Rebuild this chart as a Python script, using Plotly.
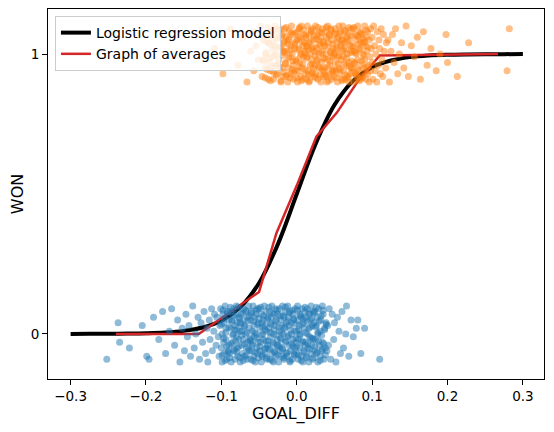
import plotly.graph_objects as go

# logistic regression curve
model_x = [-0.3, -0.275, -0.25, -0.225, -0.2, -0.175, -0.15, -0.125, -0.1, -0.075, -0.05, -0.025, 0.0,
           0.025, 0.05, 0.075, 0.1, 0.125, 0.15, 0.175, 0.2, 0.225, 0.25, 0.275, 0.3]
model_y = [0.0001, 0.0003, 0.0006, 0.0012, 0.0025, 0.0052, 0.011, 0.023, 0.047, 0.095, 0.182, 0.321, 0.5,
           0.679, 0.818, 0.905, 0.953, 0.977, 0.989, 0.9948, 0.9975, 0.9988, 0.9994, 0.9997, 0.9999]

# graph of averages
avg_x = [-0.24, -0.13, -0.05, -0.027, 0.0, 0.026, 0.053, 0.079, 0.11, 0.267]
avg_y = [0.0, 0.0, 0.15, 0.36, 0.53, 0.705, 0.79, 0.895, 0.995, 1.0]

# WON = 0 games
lost_x = [
    -0.252, -0.237, -0.235, -0.222, -0.205,
    -0.199, -0.196, -0.19, -0.183, -0.178, -0.174, -0.169, -0.166, -0.162, -0.158, -0.155, -0.152,
    -0.149, -0.147, -0.145, -0.143, -0.141, -0.138, -0.136, -0.134, -0.131, -0.129, -0.127, -0.125, -0.123, -0.121,
    -0.119, -0.118, -0.116, -0.115, -0.113, -0.112, -0.11, -0.109, -0.107, -0.106, -0.104, -0.103, -0.102, -0.101,
    -0.1, -0.099, -0.099, -0.098, -0.097, -0.097, -0.096, -0.095, -0.094, -0.094, -0.093, -0.092, -0.091, -0.09,
    -0.09, -0.089, -0.088, -0.087, -0.087, -0.086, -0.085, -0.084, -0.084, -0.083, -0.082, -0.082, -0.081, -0.08,
    -0.08, -0.079, -0.079, -0.078, -0.077, -0.077, -0.076, -0.075, -0.075, -0.074, -0.073, -0.073, -0.072, -0.071,
    -0.071, -0.07, -0.069, -0.069, -0.068, -0.067, -0.067, -0.066, -0.065, -0.065, -0.064, -0.063, -0.063, -0.062,
    -0.061, -0.061, -0.06, -0.06,
    -0.059, -0.059, -0.058, -0.057, -0.057, -0.056, -0.056, -0.055, -0.054, -0.054, -0.053, -0.052, -0.052, -0.051,
    -0.051, -0.05, -0.049, -0.049, -0.048, -0.047, -0.047, -0.046, -0.046, -0.045, -0.044, -0.044, -0.043, -0.042,
    -0.042, -0.041, -0.041, -0.04, -0.04, -0.039,
    -0.038, -0.038, -0.037, -0.036, -0.036, -0.035, -0.035, -0.034, -0.033, -0.033, -0.032, -0.031, -0.031, -0.03,
    -0.03, -0.029, -0.028, -0.028, -0.027, -0.026, -0.026, -0.025, -0.025, -0.024, -0.023, -0.023, -0.022, -0.021,
    -0.021, -0.02, -0.02, -0.019, -0.019, -0.018,
    -0.017, -0.017, -0.016, -0.015, -0.015, -0.014, -0.014, -0.013, -0.012, -0.012, -0.011, -0.01, -0.01, -0.009,
    -0.009, -0.008, -0.007, -0.007, -0.006, -0.005, -0.005, -0.004, -0.004, -0.003, -0.002, -0.002, -0.001, 0.0,
    0.0, 0.001, 0.001, 0.002, 0.002, 0.003,
    0.004, 0.004, 0.005, 0.006, 0.006, 0.007, 0.007, 0.008, 0.009, 0.009, 0.01, 0.011, 0.011, 0.012, 0.012, 0.013,
    0.014, 0.014, 0.015, 0.016, 0.016, 0.017, 0.017, 0.018, 0.019, 0.019, 0.02, 0.021, 0.021, 0.022, 0.022, 0.023,
    0.024, 0.024, 0.025, 0.026, 0.026, 0.027, 0.028, 0.028, 0.029, 0.03, 0.031, 0.031, 0.032, 0.033, 0.034, 0.034,
    0.035, 0.036, 0.037, 0.038, 0.039, 0.04, 0.041, 0.042,
    0.043, 0.045, 0.047, 0.049, 0.05, 0.052, 0.054, 0.056, 0.058, 0.06,
    0.062, 0.065, 0.066, 0.069, 0.072, 0.075, 0.079,
    0.081, 0.085, 0.09, 0.11,
]
lost_jitter = [
    -0.09, 0.04, -0.03, -0.05, 0.03, -0.08, -0.09, 0.06, -0.02, 0.08, -0.07, 0.01, 0.09, -0.04, 0.05, -0.1, 0.02, -0.06, 0.07, -0.01,
    0.03, -0.08, 0.1, -0.05, 0.0, 0.06, -0.09, 0.04, -0.03, 0.08, -0.07, 0.02, -0.1, 0.05, -0.02, 0.09, -0.06, 0.01, 0.07, -0.04,
    0.06, -0.01, -0.08, 0.03, 0.09, -0.05, 0.0, -0.1, 0.07, -0.03, 0.04, -0.07, 0.1, -0.02, 0.02, -0.09, 0.08, -0.06, 0.05, -0.04,
    -0.07, 0.08, 0.02, -0.1, 0.05, -0.03, 0.09, 0.0, -0.06, 0.03, -0.09, 0.07, -0.01, 0.1, -0.05, 0.04, -0.08, 0.06, -0.02, 0.01,
    0.04, -0.1, 0.07, -0.04, 0.01, -0.07, 0.09, -0.02, 0.05, -0.08, 0.03, 0.0, -0.05, 0.08, -0.09, 0.06, -0.03, 0.1, -0.06, 0.02,
    -0.02, 0.05, -0.09, 0.08, -0.06, 0.01, -0.04, 0.1, 0.03, -0.08, 0.06, -0.01, -0.1, 0.07, 0.0, -0.05, 0.09, -0.07, 0.04, -0.03,
    0.09, -0.06, 0.02, -0.03, 0.07, -0.1, 0.04, -0.08, 0.0, 0.05, -0.02, 0.1, -0.07, 0.03, -0.05, 0.08, -0.09, 0.01, -0.04, 0.06,
    -0.05, 0.02, 0.08, -0.09, 0.04, -0.01, 0.06, -0.07, 0.1, -0.03, 0.0, -0.1, 0.07, -0.06, 0.03, 0.09, -0.08, 0.05, -0.02, -0.04,
    0.07, -0.04, -0.1, 0.01, 0.09, -0.06, 0.05, -0.02, -0.08, 0.03, 0.1, -0.05, 0.0, 0.06, -0.09, 0.02, -0.03, 0.08, -0.07, 0.04,
    -0.08, 0.1, -0.01, 0.06, -0.04, 0.03, -0.1, 0.08, -0.06, 0.0, 0.04, -0.09, 0.07, -0.02, 0.05, -0.07, 0.01, 0.09, -0.05, -0.03,
    0.01, -0.07, 0.05, 0.1, -0.02, -0.09, 0.03, 0.07, -0.05, 0.0, -0.08, 0.06, -0.03, 0.09, -0.1, 0.04, -0.06, 0.02, 0.08, -0.04,
    -0.03, 0.06, -0.08, 0.0, 0.09, -0.05, 0.02, -0.1, 0.07, -0.01, 0.05, -0.07, 0.1, -0.04, 0.03, -0.09, 0.08, -0.02, 0.04, -0.06,
    0.08, -0.02, 0.03, -0.07, 0.06, -0.1, 0.0, 0.09, -0.04, 0.01, -0.08, 0.05, -0.06, 0.1, -0.03, 0.07, -0.09, 0.02, -0.05, 0.04,
    -0.06, 0.03, -0.04, 0.09, -0.09, 0.07, -0.02, 0.04, -0.1, 0.06, 0.01, -0.07, 0.08, -0.05, 0.0, 0.1, -0.08, 0.05, -0.01, 0.02,
    0.05, -0.07, 0.02, -0.09,
]
# more WON = 0 games in the crowded middle
lost_x_core = [
    -0.1, -0.099, -0.098, -0.097, -0.096, -0.095, -0.094, -0.093, -0.092, -0.091, -0.09, -0.089, -0.088, -0.087,
    -0.086, -0.085, -0.084, -0.083, -0.082, -0.081, -0.08, -0.079, -0.078, -0.077, -0.076, -0.075, -0.074, -0.073,
    -0.072, -0.071, -0.07, -0.069, -0.068, -0.067, -0.066, -0.065, -0.064, -0.063, -0.062, -0.061, -0.06, -0.059,
    -0.058, -0.057, -0.056, -0.055, -0.054, -0.053, -0.052, -0.051, -0.05, -0.049, -0.048, -0.047, -0.046, -0.045,
    -0.044, -0.043, -0.042, -0.041, -0.04, -0.039, -0.038, -0.037, -0.036, -0.035, -0.034, -0.033, -0.032, -0.031,
    -0.03, -0.029, -0.028, -0.027, -0.026, -0.025, -0.024, -0.023, -0.022, -0.021, -0.02, -0.019, -0.018, -0.017,
    -0.016, -0.015, -0.014, -0.013, -0.012, -0.011, -0.01, -0.009, -0.008, -0.007, -0.006, -0.005, -0.004, -0.003,
    -0.002, -0.001, 0.0, 0.001, 0.002, 0.003, 0.004, 0.005, 0.006, 0.007, 0.008, 0.009, 0.01, 0.011,
    0.012, 0.013, 0.014, 0.015, 0.016, 0.017, 0.018, 0.019, 0.02, 0.021, 0.022, 0.023, 0.024, 0.025,
    0.026, 0.027, 0.028, 0.029, 0.03, 0.031, 0.032, 0.033, 0.034, 0.035, 0.036, 0.037, 0.038, 0.039,
]
lost_jitter_core = [
    0.035, -0.075, 0.085, -0.015, 0.055, -0.095, 0.005, -0.045, 0.075, -0.065, 0.025, -0.085, 0.095, -0.035, 0.045, -0.005, 0.065, -0.055, 0.015, -0.025,
    -0.065, 0.015, 0.095, -0.045, 0.055, -0.085, 0.035, -0.005, 0.075, -0.095, 0.025, -0.035, 0.085, -0.075, 0.005, 0.045, -0.055, 0.065, -0.015, -0.025,
    0.075, -0.035, -0.095, 0.045, 0.005, -0.065, 0.085, -0.015, 0.035, -0.085, 0.055, -0.045, 0.095, -0.005, -0.075, 0.025, 0.065, -0.055, 0.015, -0.025,
    -0.085, 0.055, -0.025, 0.095, -0.055, 0.005, 0.035, -0.095, 0.075, -0.035, 0.015, -0.065, 0.045, -0.005, 0.085, -0.075, 0.025, -0.045, 0.065, -0.015,
    0.005, -0.055, 0.065, -0.085, 0.025, 0.095, -0.025, -0.065, 0.045, -0.005, 0.075, -0.095, 0.015, -0.035, 0.085, -0.045, 0.055, -0.075, 0.035, -0.015,
    -0.045, 0.085, -0.075, 0.015, -0.005, 0.065, -0.095, 0.035, -0.025, 0.055, -0.065, 0.095, 0.005, -0.085, 0.045, -0.035, 0.075, -0.055, 0.025, -0.015,
    0.055, -0.015, -0.085, 0.075, -0.045, 0.025, 0.095, -0.065, 0.005, -0.025, 0.045, -0.095, 0.065, -0.005, -0.055, 0.085, -0.035, 0.015, -0.075, 0.035,
]

# WON = 1 games
won_x = [
    -0.109, -0.098, -0.088, -0.078, -0.072, -0.066, -0.061, -0.058,
    -0.057, -0.054, -0.051, -0.048, -0.046, -0.044, -0.042, -0.041,
    -0.039, -0.038, -0.037, -0.036, -0.035, -0.034, -0.033, -0.032, -0.031, -0.03, -0.029, -0.028, -0.027, -0.026,
    -0.025, -0.024, -0.022, -0.021,
    -0.02, -0.019, -0.019, -0.018, -0.017, -0.017, -0.016, -0.015, -0.014, -0.014, -0.013, -0.012, -0.011, -0.011,
    -0.01, -0.009, -0.008, -0.008, -0.007, -0.006, -0.005, -0.005, -0.004, -0.003, -0.002, -0.002, -0.001, 0.0,
    0.001, 0.001, 0.002, 0.003, 0.003, 0.004, 0.004, 0.005, 0.006, 0.006, 0.007, 0.008, 0.008, 0.009, 0.009, 0.01,
    0.011, 0.011, 0.012, 0.013, 0.013, 0.014, 0.014, 0.015, 0.016, 0.016, 0.017, 0.018, 0.018, 0.019, 0.019, 0.02,
    0.02, 0.021,
    0.022, 0.022, 0.023, 0.024, 0.024, 0.025, 0.025, 0.026, 0.027, 0.027, 0.028, 0.029, 0.029, 0.03, 0.03, 0.031,
    0.032, 0.032, 0.033, 0.034, 0.034, 0.035, 0.035, 0.036, 0.037, 0.037, 0.038, 0.039, 0.039, 0.04, 0.04, 0.041,
    0.041, 0.042,
    0.043, 0.043, 0.044, 0.045, 0.045, 0.046, 0.046, 0.047, 0.048, 0.048, 0.049, 0.05, 0.05, 0.051, 0.051, 0.052,
    0.053, 0.053, 0.054, 0.055, 0.055, 0.056, 0.056, 0.057, 0.058, 0.058, 0.059, 0.06, 0.06, 0.061, 0.061, 0.062,
    0.062, 0.063,
    0.064, 0.064, 0.065, 0.066, 0.066, 0.067, 0.067, 0.068, 0.069, 0.069, 0.07, 0.071, 0.071, 0.072, 0.072, 0.073,
    0.074, 0.074, 0.075, 0.076, 0.076, 0.077, 0.077, 0.078, 0.079, 0.079, 0.08, 0.081, 0.081, 0.082, 0.082, 0.083,
    0.084, 0.084, 0.085, 0.086, 0.086, 0.087, 0.088, 0.088, 0.089, 0.09, 0.09, 0.091, 0.092, 0.092, 0.093, 0.094,
    0.094, 0.095, 0.096, 0.096, 0.097, 0.098, 0.098, 0.099, 0.1, 0.1, 0.101, 0.102,
    0.103, 0.104, 0.105, 0.106, 0.107, 0.108, 0.109, 0.11, 0.111, 0.112, 0.113, 0.114, 0.115, 0.116, 0.118, 0.119,
    0.121, 0.123, 0.125, 0.127, 0.129, 0.131, 0.134, 0.136, 0.139, 0.142, 0.145, 0.148,
    0.152, 0.156, 0.16, 0.164, 0.168, 0.173, 0.178, 0.185, 0.19, 0.198,
    0.2, 0.213, 0.228, 0.279, 0.282,
]
won_jitter = [
    0.02, -0.07, 0.09, -0.04, 0.06, -0.1, 0.01, 0.08, -0.06, 0.03, -0.02, 0.1, -0.08, 0.05, -0.05, 0.0, 0.07, -0.09, 0.04, -0.03,
    -0.06, 0.08, -0.01, 0.05, -0.09, 0.03, 0.1, -0.04, 0.0, -0.07, 0.06, -0.02, 0.09, -0.1, 0.02, -0.05, 0.07, -0.08, 0.04, 0.01,
    0.09, -0.03, -0.08, 0.06, 0.01, -0.1, 0.05, -0.05, 0.08, -0.01, 0.03, -0.07, 0.1, 0.0, -0.04, 0.07, -0.09, 0.02, -0.06, 0.04,
    -0.02, 0.05, -0.1, 0.08, -0.06, 0.02, 0.09, -0.03, 0.06, -0.08, 0.0, 0.1, -0.05, 0.03, -0.09, 0.07, -0.01, 0.04, -0.07, 0.01,
    0.06, -0.09, 0.03, -0.01, 0.1, -0.06, 0.04, -0.1, 0.07, 0.0, -0.04, 0.08, -0.07, 0.02, -0.02, 0.09, -0.05, 0.05, -0.08, 0.01,
    -0.04, 0.1, -0.07, 0.02, 0.07, -0.02, -0.09, 0.05, 0.0, 0.08, -0.05, 0.03, -0.1, 0.06, -0.03, 0.01, 0.09, -0.08, 0.04, -0.06,
    0.03, -0.05, 0.08, -0.08, 0.0, 0.06, -0.1, 0.1, -0.02, 0.04, -0.07, 0.07, -0.04, 0.01, 0.09, -0.09, 0.05, -0.01, 0.02, -0.06,
    -0.08, 0.07, 0.0, -0.03, 0.09, -0.06, 0.04, 0.02, -0.1, 0.06, -0.01, -0.05, 0.1, -0.07, 0.03, 0.08, -0.02, -0.09, 0.05, 0.01,
    0.1, -0.01, -0.06, 0.04, -0.09, 0.08, 0.02, -0.04, 0.06, -0.08, 0.0, 0.07, -0.03, -0.1, 0.05, 0.03, -0.07, 0.09, -0.05, 0.01,
    -0.05, 0.03, 0.09, -0.1, 0.01, -0.03, 0.07, -0.07, 0.05, 0.0, -0.08, 0.1, -0.02, 0.06, -0.06, 0.02, 0.08, -0.09, 0.04, -0.04,
    0.07, -0.08, 0.04, 0.0, -0.05, 0.1, -0.02, 0.03, -0.09, 0.06, 0.01, -0.07, 0.08, -0.04, -0.1, 0.05, -0.01, 0.09, -0.06, 0.02,
    -0.03, 0.06, -0.09, 0.1, 0.03, -0.06, 0.0, -0.1, 0.08, -0.04, 0.05, 0.02, -0.07, 0.09, -0.02, -0.08, 0.07, 0.01, -0.05, 0.04,
    0.05, -0.1, 0.01, 0.07, -0.03, 0.09, -0.07, 0.0, 0.04, -0.05, 0.1, -0.08, 0.03, -0.01, 0.06, -0.09, 0.08, -0.04, 0.02, -0.06,
    0.0, 0.07, -0.03, -0.08, 0.04, -0.06, 0.09, -0.02,
]
# more WON = 1 games in the crowded middle
won_x_core = [
    -0.045, -0.044, -0.043, -0.042, -0.041, -0.04, -0.039, -0.038, -0.037, -0.036, -0.035, -0.034, -0.033, -0.032,
    -0.031, -0.03, -0.029, -0.028, -0.027, -0.026, -0.025, -0.024, -0.023, -0.022, -0.021, -0.02, -0.019, -0.018,
    -0.017, -0.016, -0.015, -0.014, -0.013, -0.012, -0.011, -0.01, -0.009, -0.008, -0.007, -0.006, -0.005, -0.004,
    -0.003, -0.002, -0.001, 0.0, 0.001, 0.002, 0.003, 0.004, 0.005, 0.006, 0.007, 0.008, 0.009, 0.01,
    0.011, 0.012, 0.013, 0.014, 0.015, 0.016, 0.017, 0.018, 0.019, 0.02, 0.021, 0.022, 0.023, 0.024,
    0.025, 0.026, 0.027, 0.028, 0.029, 0.03, 0.031, 0.032, 0.033, 0.034, 0.035, 0.036, 0.037, 0.038,
    0.039, 0.04, 0.041, 0.042, 0.043, 0.044, 0.045, 0.046, 0.047, 0.048, 0.049, 0.05, 0.051, 0.052,
    0.053, 0.054, 0.055, 0.056, 0.057, 0.058, 0.059, 0.06, 0.061, 0.062, 0.063, 0.064, 0.065, 0.066,
    0.067, 0.068, 0.069, 0.07, 0.071, 0.072, 0.073, 0.074, 0.075, 0.076, 0.077, 0.078, 0.079, 0.08,
    0.081, 0.082, 0.083, 0.084, 0.085, 0.086, 0.087, 0.088, 0.089, 0.09, 0.091, 0.092, 0.093, 0.094,
]
won_jitter_core = [
    -0.025, 0.065, -0.085, 0.005, 0.045, -0.055, 0.095, -0.015, 0.035, -0.095, 0.075, -0.045, 0.015, -0.065, 0.085, -0.005, 0.025, -0.075, 0.055, -0.035,
    0.085, -0.045, 0.025, -0.095, 0.065, -0.005, -0.065, 0.045, 0.005, -0.035, 0.095, -0.075, 0.035, -0.015, 0.055, -0.085, 0.015, 0.075, -0.055, -0.025,
    -0.065, 0.035, 0.075, -0.025, -0.085, 0.015, 0.055, -0.045, 0.095, -0.005, -0.095, 0.045, -0.035, 0.085, 0.005, -0.055, 0.065, -0.015, 0.025, -0.075,
    0.015, -0.095, 0.045, 0.085, -0.035, -0.065, 0.025, 0.065, -0.005, -0.085, 0.055, -0.025, 0.095, -0.045, 0.035, -0.075, 0.005, 0.075, -0.055, -0.015,
    0.045, -0.015, -0.075, 0.095, 0.025, -0.045, -0.095, 0.065, -0.025, 0.005, 0.085, -0.065, 0.035, -0.005, -0.055, 0.075, -0.085, 0.015, 0.055, -0.035,
    -0.005, 0.075, -0.055, 0.035, -0.095, 0.055, 0.015, -0.035, 0.085, -0.075, -0.015, 0.045, -0.085, 0.095, -0.045, 0.005, 0.065, -0.025, -0.065, 0.025,
    0.095, -0.035, 0.005, -0.075, 0.065, -0.055, 0.035, -0.095, 0.015, 0.075, -0.025, -0.085, 0.055, -0.005, 0.045, -0.065, 0.085, -0.045, 0.025, -0.015,
]

won_levels = [0, 1]
y_ticks = [0, 1]
x_ticks = [-0.3, -0.2, -0.1, 0.0, 0.1, 0.2, 0.3]

fig = go.Figure()
fig.add_trace(go.Scatter(x=model_x, y=model_y, mode='lines', name='Logistic regression model',
                         line=dict(color='black', width=4, shape='spline')))
fig.add_trace(go.Scatter(x=avg_x, y=avg_y, mode='lines', name='Graph of averages',
                         line=dict(color='#d62728', width=2.5)))
fig.add_trace(go.Scatter(x=lost_x + lost_x_core,
                         y=[won_levels[0] + j for j in lost_jitter + lost_jitter_core], mode='markers',
                         marker=dict(color='#1f77b4', size=7, opacity=0.5, line=dict(width=0)),
                         showlegend=False))
fig.add_trace(go.Scatter(x=won_x + won_x_core,
                         y=[won_levels[1] + j for j in won_jitter + won_jitter_core], mode='markers',
                         marker=dict(color='#ff7f0e', size=7, opacity=0.5, line=dict(width=0)),
                         showlegend=False))

axis_style = dict(showline=True, linecolor='black', linewidth=1, mirror=True, ticks='outside',
                  ticklen=5, tickcolor='black', showgrid=False, zeroline=False, automargin=False)
# the page body adds an 8px offset, so the figure is a bit smaller than the window
fig.update_layout(
    width=546, height=424,
    margin=dict(l=40, r=10, t=1, b=53),
    plot_bgcolor='white', paper_bgcolor='white',
    font=dict(family='DejaVu Sans', size=13.5, color='black'),
    xaxis=dict(range=[-0.33, 0.328], tickvals=x_ticks, tickformat='.1f',
               title=dict(text='GOAL_DIFF', standoff=4), **axis_style),
    yaxis=dict(range=[-0.161, 1.161], tickvals=y_ticks,
               title=dict(text='WON', standoff=8), **axis_style),
    legend=dict(x=0.014, y=0.981, xanchor='left', yanchor='top',
                bgcolor='rgba(255,255,255,0.8)', bordercolor='#cccccc', borderwidth=1,
                font=dict(size=14), tracegroupgap=0),
)
fig.write_html("out.html")
